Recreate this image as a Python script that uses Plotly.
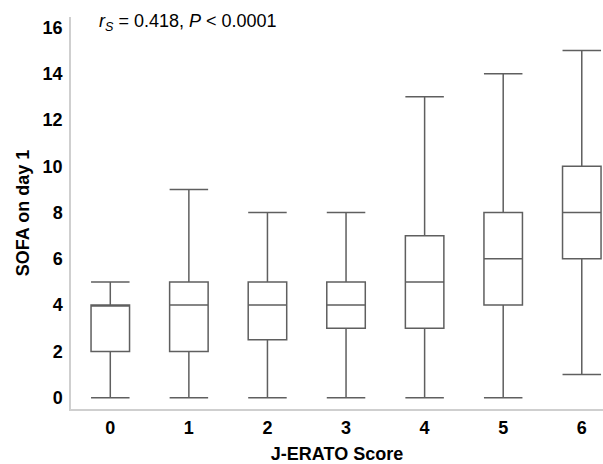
import plotly.graph_objects as go

categories = ["0", "1", "2", "3", "4", "5", "6"]
lower_whisker = [0, 0, 0, 0, 0, 0, 1]
q1_values = [2, 2, 2.5, 3, 3, 4, 6]
median_values = [4, 4, 4, 4, 5, 6, 8]
q3_values = [4, 5, 5, 5, 7, 8, 10]
upper_whisker = [5, 9, 8, 8, 13, 14, 15]
y_tick_values = [0, 2, 4, 6, 8, 10, 12, 14, 16]

FONT = "Liberation Sans, Arial, Helvetica, sans-serif"
LINE = "#5f5f5f"
AXIS = "#cfcfcf"

fig = go.Figure()
fig.add_trace(go.Box(
    x=categories,
    q1=q1_values,
    median=median_values,
    q3=q3_values,
    lowerfence=lower_whisker,
    upperfence=upper_whisker,
    fillcolor="rgba(255,255,255,0)",
    line=dict(color=LINE, width=1.5),
    whiskerwidth=1,
    width=0.49,
    boxpoints=False,
    hoverinfo="skip",
    showlegend=False,
))

fig.update_layout(
    width=603, height=464,
    margin=dict(l=71, r=0, t=17, b=55),
    paper_bgcolor="white",
    plot_bgcolor="white",
    font=dict(family=FONT, color="black"),
    xaxis=dict(
        type="category",
        range=[-0.5, 6.27],
        automargin=False,
        showline=True, linecolor=AXIS, linewidth=1.5,
        showgrid=False, zeroline=False,
        ticks="outside", ticklen=2, tickcolor="rgba(0,0,0,0)",
        tickfont=dict(size=18, weight="bold", family=FONT),
        title=dict(text="J-ERATO Score", font=dict(size=18, weight="bold", family=FONT), standoff=22),
    ),
    yaxis=dict(
        range=[-0.49, 16.45],
        tickvals=y_tick_values,
        automargin=False,
        showline=True, linecolor=AXIS, linewidth=1.5,
        showgrid=False, zeroline=False,
        ticks="outside", ticklen=3, tickcolor="rgba(0,0,0,0)",
        tickfont=dict(size=18, weight="bold", family=FONT),
        title=dict(text="SOFA on day 1", font=dict(size=18, weight="bold", family=FONT), standoff=8),
    ),
    annotations=[dict(
        text="<i>r</i><sub><i>S</i></sub> = 0.418, <i>P</i> &lt; 0.0001",
        xref="paper", yref="paper", x=0.049, y=0.987,
        xanchor="left", yanchor="middle", showarrow=False,
        font=dict(size=18, family=FONT, color="black"),
    )],
)

fig.write_html(
    "out.html",
    config={"displayModeBar": False},
    post_script="document.body.style.margin='0';document.body.style.overflow='hidden';",
)
